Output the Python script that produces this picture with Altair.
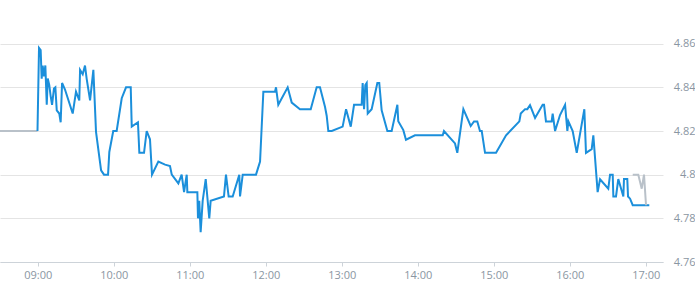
import altair as alt
import pandas as pd

# minutes since midnight
pre_minutes = [510.2, 539.8]
pre_prices = [4.82, 4.82]

main_minutes = [
    539.8, 541.0, 542.3, 543.1, 543.9, 544.9, 546.0, 547.1, 547.9, 549.1,
    550.2, 551.3, 552.8, 553.9, 555.0, 557.0, 558.1, 559.2, 561.5, 567.6,
    570.2, 572.8, 573.4, 575.5, 577.3, 578.6, 581.3, 583.9, 586.0, 590.0,
    592.3, 595.5, 596.5, 599.6, 602.3, 606.3, 609.7, 613.4, 614.2, 619.1,
    620.2, 623.9, 626.0, 628.6, 630.2, 635.2, 640.5, 644.4, 645.8, 651.0,
    653.6, 655.5, 657.6, 658.1, 666.0, 666.5, 667.5, 668.6, 670.2, 672.6,
    675.4, 676.5, 687.0, 688.6, 690.7, 693.9, 699.1, 699.7, 701.8, 712.3,
    715.5, 718.1, 727.3, 728.1, 729.9, 737.3, 740.5, 747.0, 755.5, 760.2,
    762.8, 766.8, 768.1, 769.4, 772.1, 780.7, 783.4, 787.1, 789.7, 795.7,
    796.5, 797.6, 798.6, 799.7, 800.5, 803.6, 808.1, 809.6, 811.5, 816.0,
    819.4, 823.9, 824.6, 828.6, 830.7, 837.8, 859.7, 860.7, 869.4, 871.2,
    876.0, 881.8, 884.4, 887.0, 889.1, 890.5, 893.1, 901.8, 909.7, 920.2,
    921.3, 924.7, 926.5, 928.6, 932.6, 938.6, 939.7, 941.2, 945.7, 946.5,
    948.4, 952.3, 956.3, 958.1, 958.9, 962.3, 965.5, 971.5, 972.8, 977.3,
    978.6, 982.0, 983.9, 990.4, 991.8, 993.9, 994.4, 996.5, 998.3, 1002.3,
    1002.8, 1005.4, 1006.0, 1007.6, 1009.7, 1022.8,
]
main_prices = [
    4.820, 4.858, 4.857, 4.844, 4.850, 4.845, 4.850, 4.832, 4.844, 4.841,
    4.836, 4.832, 4.8395, 4.840, 4.8295, 4.828, 4.824, 4.842, 4.839, 4.828,
    4.838, 4.834, 4.848, 4.846, 4.850, 4.844, 4.834, 4.848, 4.8196, 4.802,
    4.800, 4.800, 4.8104, 4.820, 4.820, 4.835, 4.840, 4.840, 4.822, 4.824,
    4.810, 4.810, 4.820, 4.8162, 4.800, 4.806, 4.8046, 4.804, 4.800, 4.796,
    4.800, 4.792, 4.800, 4.792, 4.792, 4.780, 4.788, 4.7737, 4.788, 4.798,
    4.780, 4.788, 4.790, 4.800, 4.790, 4.790, 4.800, 4.790, 4.800, 4.800,
    4.806, 4.838, 4.838, 4.840, 4.832, 4.840, 4.833, 4.830, 4.830, 4.840,
    4.840, 4.831, 4.827, 4.820, 4.820, 4.822, 4.830, 4.822, 4.832, 4.832,
    4.842, 4.830, 4.841, 4.842, 4.828, 4.830, 4.842, 4.842, 4.8295, 4.820,
    4.820, 4.832, 4.8245, 4.8204, 4.816, 4.818, 4.818, 4.820, 4.8143, 4.810,
    4.830, 4.8223, 4.8244, 4.8244, 4.820, 4.820, 4.810, 4.810, 4.818, 4.8244,
    4.828, 4.830, 4.830, 4.8318, 4.826, 4.832, 4.832, 4.8244, 4.8244, 4.828,
    4.820, 4.8273, 4.832, 4.820, 4.8244, 4.820, 4.810, 4.830, 4.810, 4.8117,
    4.818, 4.792, 4.7979, 4.7936, 4.800, 4.800, 4.790, 4.790, 4.798, 4.790,
    4.798, 4.798, 4.790, 4.789, 4.786, 4.786,
]

post_minutes = [1009.7, 1014.1, 1016.8, 1018.6, 1020.2]
post_prices = [4.800, 4.800, 4.7936, 4.800, 4.786]

y_ticks = [4.76, 4.78, 4.80, 4.82, 4.84, 4.86]
x_ticks = [540, 600, 660, 720, 780, 840, 900, 960, 1020]

BLUE = "#1b8fdb"
GREY = "#b9c1c9"
LABEL = "#8a96a2"


def frame(ms, ps):
    return pd.DataFrame({"m": ms, "p": ps, "i": list(range(len(ms)))})


x_scale = alt.Scale(domain=[510.2, 1033.6], nice=False, zero=False)
y_scale = alt.Scale(domain=[4.76, 4.88], nice=False, zero=False)

x_axis = alt.Axis(
    values=x_ticks,
    labelExpr="(floor(datum.value/60) < 10 ? '0' : '') + floor(datum.value/60) + ':00'",
    grid=False,
    domain=True,
    domainColor="#cdd3d9",
    ticks=True,
    tickColor="#cdd3d9",
    tickSize=4,
    labelPadding=3,
    labelColor=LABEL,
    labelFont="Open Sans",
    labelFontSize=11,
    title=None,
)
y_axis = alt.Axis(
    orient="right",
    values=y_ticks,
    format=".2~f",
    grid=True,
    gridColor="#e4e4e4",
    domain=False,
    ticks=False,
    tickSize=0,
    labelAlign="right",
    labelBaseline="middle",
    labelPadding=32,
    labelColor=LABEL,
    labelFont="Open Sans",
    labelFontSize=11,
    title=None,
)


def line(df, color):
    return alt.Chart(df).mark_line(color=color, strokeWidth=2, interpolate="linear").encode(
        x=alt.X("m:Q", scale=x_scale, axis=x_axis),
        y=alt.Y("p:Q", scale=y_scale, axis=y_axis),
        order=alt.Order("i:Q"),
    )


chart = alt.layer(
    line(frame(pre_minutes, pre_prices), GREY),
    line(frame(main_minutes, main_prices), BLUE),
    line(frame(post_minutes, post_prices), GREY),
).properties(
    width=663,
    height=262,
    autosize=alt.AutoSizeParams(type="none"),
    padding={"left": 0, "top": 0, "right": 32, "bottom": 38},
    background="white",
).configure_view(stroke=None)

chart.save("out.html", embed_options={"renderer": "svg", "actions": False})
